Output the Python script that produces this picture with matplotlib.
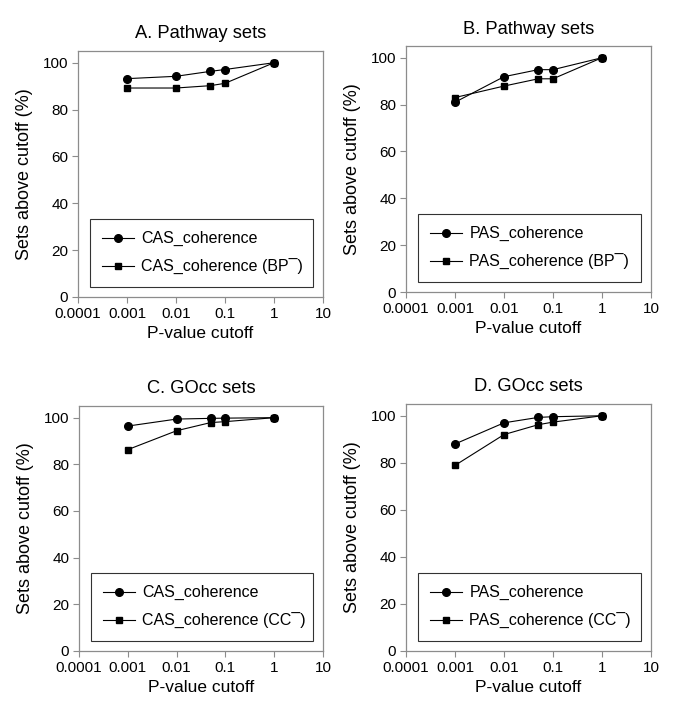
import matplotlib
matplotlib.use("Agg")
import matplotlib.pyplot as plt
from matplotlib.ticker import FixedLocator, FixedFormatter

plt.rcParams['font.family'] = ['Liberation Sans', 'DejaVu Sans']

# ---- data ----
pvals = [0.001, 0.01, 0.05, 0.1, 1]
xtick_vals = [0.0001, 0.001, 0.01, 0.1, 1, 10]
xtick_labels = ["0.0001", "0.001", "0.01", "0.1", "1", "10"]
ytick_vals = [0, 20, 40, 60, 80, 100]

titles = ["A. Pathway sets", "B. Pathway sets", "C. GOcc sets", "D. GOcc sets"]

a_circle = [93.2, 94.2, 96.3, 97.1, 100]
a_square = [89.2, 89.2, 90.2, 91.2, 100]
b_circle = [81.0, 91.9, 94.9, 94.9, 100]
b_square = [83.0, 87.9, 91.0, 91.0, 100]
c_circle = [96.4, 99.4, 99.7, 99.8, 100]
c_square = [86.3, 94.4, 97.9, 98.3, 100]
d_circle = [88.0, 97.0, 99.3, 99.6, 100]
d_square = [78.9, 92.0, 96.2, 97.3, 100]

circle_labels = ["CAS_coherence", "PAS_coherence", "CAS_coherence", "PAS_coherence"]
square_labels = ["CAS_coherence (BP\u00AF)", "PAS_coherence (BP\u00AF)",
                 "CAS_coherence (CC\u00AF)", "PAS_coherence (CC\u00AF)"]

circles = [a_circle, b_circle, c_circle, d_circle]
squares = [a_square, b_square, c_square, d_square]

W, H = 685, 718
fig = plt.figure(figsize=(W / 100, H / 100), dpi=100)

# axes boxes in pixels: (left, top, right, bottom)
boxes = [(78, 51, 323, 297), (406, 46, 651, 292),
         (79, 406, 323, 651), (406, 404, 651, 651)]

gray = "#8c8c8c"
for i, (l, t, r, b) in enumerate(boxes):
    ax = fig.add_axes([l / W, 1 - b / H, (r - l) / W, (b - t) / H])
    ax.plot(pvals, circles[i], color="black", lw=0.8, marker="o", ms=5.5,
            label=circle_labels[i])
    ax.plot(pvals, squares[i], color="black", lw=0.8, marker="s", ms=5,
            label=square_labels[i])
    ax.set_xscale("log")
    ax.set_xlim(0.0001, 10)
    ax.set_ylim(0, 105)
    ax.xaxis.set_major_locator(FixedLocator(xtick_vals))
    ax.xaxis.set_major_formatter(FixedFormatter(xtick_labels))
    ax.xaxis.set_minor_locator(FixedLocator([]))
    ax.set_yticks(ytick_vals)
    ax.tick_params(axis="both", direction="out", length=4, width=0.8,
                   color=gray, labelsize=11, pad=3)
    for s in ax.spines.values():
        s.set_color(gray)
        s.set_linewidth(0.9)
    ax.set_title(titles[i], fontsize=13.2, pad=9)
    ax.set_xlabel("P-value cutoff", fontsize=12.5, labelpad=4)
    ax.set_ylabel("Sets above cutoff (%)", fontsize=13, labelpad=7)
    leg = ax.legend(loc="lower left", bbox_to_anchor=(0.05, 0.04, 0.91, 0.30),
                    mode="expand", frameon=True, fancybox=False, fontsize=11.5,
                    handlelength=2.0, handletextpad=0.45, labelspacing=0.8,
                    borderpad=0.75, borderaxespad=0)
    leg.get_frame().set_edgecolor("black")
    leg.get_frame().set_linewidth(0.8)

fig.savefig("out.png", dpi=100)
